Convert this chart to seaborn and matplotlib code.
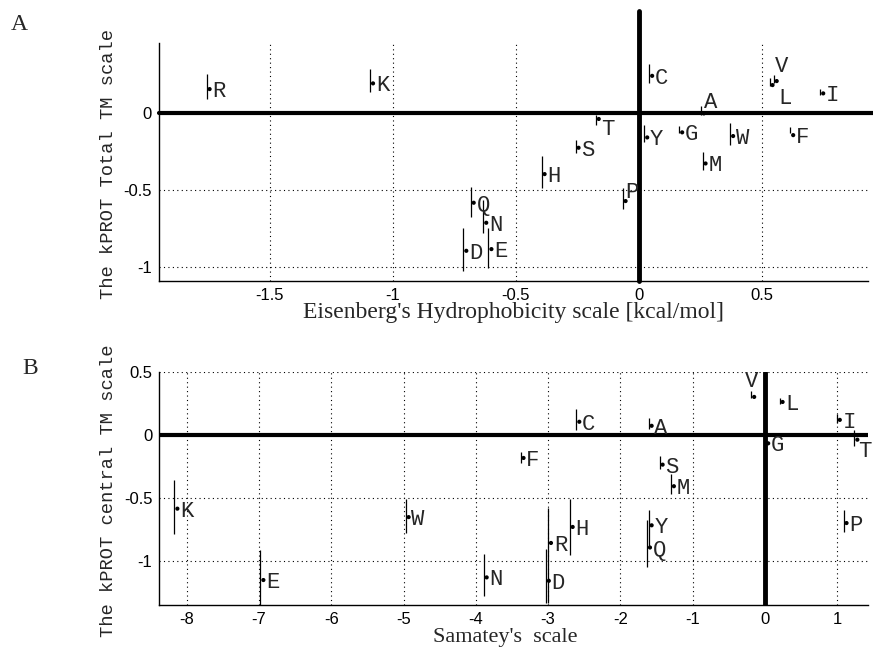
import numpy as np
import pandas as pd
import matplotlib
matplotlib.use("Agg")
import matplotlib.pyplot as plt
import matplotlib.transforms as mtransforms
from matplotlib.ticker import FuncFormatter
import seaborn as sns

# Panel A: Eisenberg hydrophobicity vs kPROT total TM scale
letters_a = ['R', 'K', 'C', 'V', 'L', 'I', 'A', 'T', 'Y', 'G',
             'W', 'F', 'S', 'M', 'H', 'P', 'Q', 'N', 'D', 'E']
eisenberg = [-1.744, -1.080, 0.054, 0.560, 0.543, 0.749, 0.264, -0.163, 0.034, 0.176,
             0.383, 0.627, -0.245, 0.271, -0.383, -0.054, -0.671, -0.620, -0.701, -0.599]
kprot_total = [0.156, 0.193, 0.242, 0.208, 0.182, 0.128, -0.002, -0.038, -0.158, -0.125,
               -0.149, -0.143, -0.225, -0.327, -0.396, -0.571, -0.582, -0.712, -0.894, -0.883]
total_lo = [0.089, 0.139, 0.193, 0.193, 0.175, 0.117, -0.013, -0.078, -0.186, -0.132,
            -0.207, -0.131, -0.257, -0.370, -0.489, -0.625, -0.677, -0.781, -1.023, -1.003]
total_hi = [0.253, 0.284, 0.318, 0.247, 0.227, 0.156, 0.045, -0.013, -0.078, -0.084,
            -0.067, -0.093, -0.175, -0.251, -0.277, -0.489, -0.478, -0.565, -0.744, -0.744]

# Panel B: Samatey's scale vs kPROT central TM scale
letters_b = ['K', 'E', 'W', 'N', 'D', 'R', 'H', 'F', 'C', 'Q',
             'Y', 'A', 'S', 'M', 'V', 'G', 'L', 'I', 'P', 'T']
samatey = [-8.13, -6.94, -4.93, -3.85, -2.99, -2.96, -2.66, -3.34, -2.568, -1.59,
           -1.567, -1.567, -1.415, -1.259, -0.148, 0.046, 0.245, 1.037, 1.13, 1.28]
kprot_central = [-0.586, -1.152, -0.653, -1.131, -1.158, -0.858, -0.731, -0.184, 0.103, -0.894,
                 -0.718, 0.071, -0.237, -0.408, 0.300, -0.068, 0.260, 0.118, -0.700, -0.039]
central_lo = [-0.784, -1.35, -0.779, -1.279, -1.337, -1.337, -0.955, -0.226, 0.039, -1.047,
              -0.889, 0.045, -0.271, -0.468, 0.290, -0.12, 0.245, 0.097, -0.771, -0.087]
central_hi = [-0.357, -0.91, -0.507, -0.942, -0.902, -0.579, -0.508, -0.134, 0.203, -0.679,
              -0.6, 0.132, -0.166, -0.310, 0.347, 0.0, 0.292, 0.166, -0.6, 0.037]

df_a = pd.DataFrame({'aa': letters_a, 'x': eisenberg, 'y': kprot_total,
                     'lo': total_lo, 'hi': total_hi})
df_b = pd.DataFrame({'aa': letters_b, 'x': samatey, 'y': kprot_central,
                     'lo': central_lo, 'hi': central_hi})

sns.set_style("white")
plt.rcParams['axes.unicode_minus'] = False
plt.rcParams['font.family'] = ['Liberation Sans', 'DejaVu Sans']

SERIF = ['Liberation Serif', 'DejaVu Serif']
MONO = ['Liberation Mono', 'DejaVu Sans Mono']

# label placement tweaks (offset in points)
special_a = {'A': (0, 10), 'V': (-1, 12), 'L': (4, -8), 'P': (0, 8), 'T': (2, -6)}
special_b = {'V': (-7, 13), 'T': (0.5, -7)}

fig = plt.figure(figsize=(8.73, 6.47), dpi=100)
ax_a = fig.add_axes([0.182, 0.5657, 0.812, 0.3678])
ax_b = fig.add_axes([0.1825, 0.0649, 0.812, 0.3606])


def draw_panel(ax, d, special):
    # error bars sit a few pixels to the left of each dot
    shift = mtransforms.offset_copy(ax.transData, fig=fig, x=-3, y=0, units='dots')
    ax.vlines(d['x'], d['lo'], d['hi'], color='black', lw=0.9, transform=shift, zorder=3)
    sns.scatterplot(data=d, x='x', y='y', ax=ax, color='black', s=9,
                    edgecolor='none', zorder=4, legend=False)
    for aa, x, y in zip(d['aa'], d['x'], d['y']):
        off = special.get(aa, (2, 0))
        ax.annotate(aa, (x, y), xytext=off, textcoords='offset points',
                    ha='left', va='center_baseline', fontsize=16,
                    family=MONO, annotation_clip=False, zorder=5)
    ax.grid(True, linestyle=(0, (1, 3)), color='black', lw=0.8)
    ax.set_axisbelow(True)
    for s in ['top', 'right']:
        ax.spines[s].set_visible(False)
    for s in ['left', 'bottom']:
        ax.spines[s].set_color('black')
        ax.spines[s].set_linewidth(1.0)
    ax.tick_params(direction='in', length=4, width=0.8, colors='black',
                   labelsize=12, pad=5)
    ax.xaxis.set_major_formatter(FuncFormatter(lambda v, p: '%g' % v))
    ax.yaxis.set_major_formatter(FuncFormatter(lambda v, p: '%g' % v))


draw_panel(ax_a, df_a, special_a)
ax_a.set_xlim(-1.95, 0.93)
ax_a.set_ylim(-1.09, 0.455)
ax_a.set_xticks([-1.5, -1, -0.5, 0, 0.5])
ax_a.set_yticks([-1, -0.5, 0])
ax_a.axhline(0, color='black', lw=3, zorder=2, clip_on=False, xmax=1.01)
ax_a.plot([0, 0], [-1.09, 0.66], color='black', lw=3.5, zorder=2, clip_on=False)
ax_a.set_xlabel("Eisenberg's Hydrophobicity scale [kcal/mol]", family=SERIF,
                fontsize=17, va='baseline')
ax_a.set_ylabel("The kPROT Total TM scale", family=MONO, fontsize=13.5)
ax_a.xaxis.set_label_coords(0.5, -0.155)
ax_a.yaxis.set_label_coords(-0.059, 0.49)

draw_panel(ax_b, df_b, special_b)
ax_b.set_xlim(-8.38, 1.43)
ax_b.set_ylim(-1.35, 0.5)
ax_b.set_xticks(list(range(-8, 2)))
ax_b.set_yticks([-1, -0.5, 0, 0.5])
ax_b.axhline(0, color='black', lw=3, zorder=2)
ax_b.axvline(0, color='black', lw=3.5, zorder=2)
ax_b.set_xlabel("Samatey's  scale", family=SERIF, fontsize=16, va='baseline')
ax_b.set_ylabel("The kPROT central TM scale", family=MONO, fontsize=13.5)
ax_b.xaxis.set_label_coords(0.488, -0.158)
ax_b.yaxis.set_label_coords(-0.059, 0.489)

fig.text(0.012, 1 - 24 / 647, 'A', family=SERIF, fontsize=17, va='center')
fig.text(0.026, 1 - 369 / 647, 'B', family=SERIF, fontsize=17, va='center')

fig.savefig('out.png', dpi=100)
